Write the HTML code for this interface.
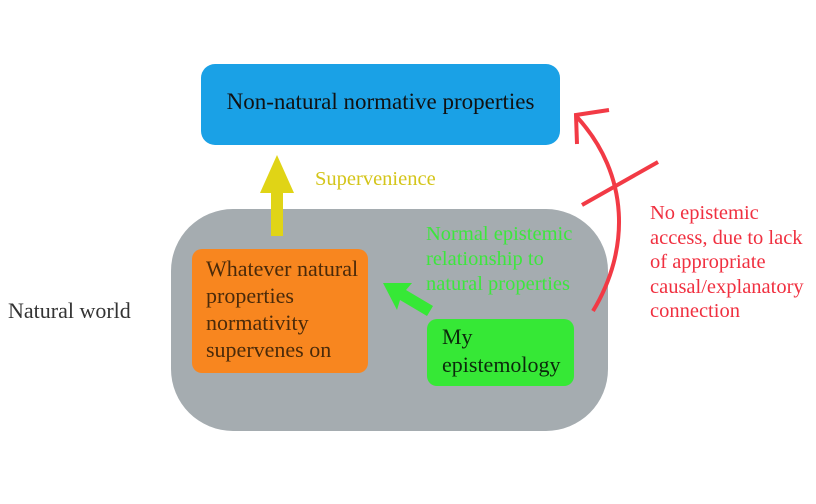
<!DOCTYPE html>
<html><head><style>
body{margin:0;width:816px;height:504px;background:#fff;position:relative;overflow:hidden;font-family:"Liberation Serif",serif}
.a{position:absolute;white-space:nowrap}
</style></head><body>
<div class="a" style="left:201px;top:64px;width:359px;height:81px;background:#1aa1e6;border-radius:14px"></div>
<div class="a" style="left:201px;top:89px;width:359px;text-align:center;font-size:23px;color:#111">Non-natural normative properties</div>
<div class="a" style="left:171px;top:209px;width:437px;height:222px;background:#a5acb0;border-radius:62px"></div>
<div class="a" style="left:192px;top:249px;width:176px;height:124px;background:#f8861f;border-radius:10px"></div>
<div class="a" style="left:206px;top:255px;font-size:22px;line-height:27px;color:#4a2a0a">Whatever natural<br>properties<br>normativity<br>supervenes on</div>
<div class="a" style="left:427px;top:319px;width:147px;height:67px;background:#36e836;border-radius:10px"></div>
<div class="a" style="left:442px;top:323px;font-size:22px;line-height:28px;color:#0b2a0b">My<br>epistemology</div>
<div class="a" style="left:426px;top:222px;font-size:20.5px;line-height:25px;color:#3de63d">Normal epistemic<br>relationship to<br>natural properties</div>
<div class="a" style="left:315px;top:168px;font-size:20.5px;color:#d4c51a">Supervenience</div>
<div class="a" style="left:8px;top:298px;font-size:22px;color:#333">Natural world</div>
<div class="a" style="left:650px;top:201px;font-size:20.5px;line-height:24.5px;color:#f03040">No epistemic<br>access, due to lack<br>of appropriate<br>causal/explanatory<br>connection</div>
<svg class="a" style="left:0;top:0" width="816" height="504">
<polygon points="271,236 283,236 283,193 294,193 277,155 260,193 271,193" fill="#e0d416"/>
<polygon points="383,283 412,283 406,290 433,306 427,316 400,300 397,310" fill="#36e836"/>
<path d="M593,311 C630,250 630,175 577,117" fill="none" stroke="#f23a45" stroke-width="4"/>
<polyline points="609,110 576,115 577,144" fill="none" stroke="#f23a45" stroke-width="4"/>
<line x1="582" y1="205" x2="658" y2="162" stroke="#f23a45" stroke-width="4"/>
</svg>
</body></html>
